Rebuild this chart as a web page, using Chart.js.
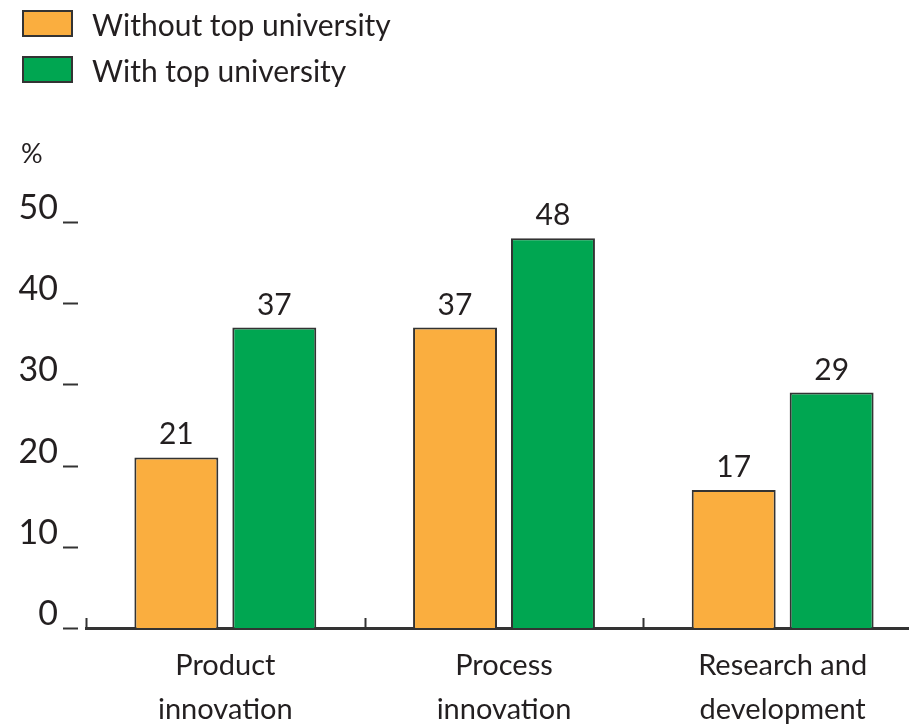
<!DOCTYPE html>
<html>
<head>
<meta charset="utf-8">
<title>Innovation rates</title>
<script src="https://cdn.jsdelivr.net/npm/chart.js@4.4.1/dist/chart.umd.min.js"></script>
<style>
  html, body { margin: 0; padding: 0; background: #fff; overflow: hidden; }
  #wrap { position: relative; width: 922px; height: 724px; }
  #legend {
    position: absolute; left: 22px; top: 10px;
    font-family: Lato, "Open Sans", sans-serif; font-size: 30px; color: #231f20;
  }
  .item { display: flex; align-items: center; height: 27px; margin-bottom: 19px; }
  .swatch { width: 47px; height: 23px; border: 2px solid #333; margin-right: 19px; }
</style>
</head>
<body>
<div id="wrap">
  <canvas id="chart" width="922" height="724"></canvas>
  <div id="legend"></div>
</div>
<script>
// --- Data ---
const categories = [["Product", "innovation"], ["Process", "innovation"], ["Research and", "development"]];
const seriesNames = ["Without top university", "With top university"];
const withoutTop = [21, 37, 17];
const withTop = [37, 48, 29];
const yTicks = [0, 10, 20, 30, 40, 50];

const colors = ["#FAAE3F", "#00A651"];
const ink = "#231f20";
const fontFamily = "Lato, 'Open Sans', sans-serif";

// --- HTML legend (two stacked rows) ---
const legendEl = document.getElementById("legend");
seriesNames.forEach((name, i) => {
  const row = document.createElement("div");
  row.className = "item";
  const sw = document.createElement("div");
  sw.className = "swatch";
  sw.style.background = colors[i];
  const label = document.createElement("span");
  label.textContent = name;
  row.appendChild(sw);
  row.appendChild(label);
  legendEl.appendChild(row);
});

// --- Extra drawing: value labels, tick dashes, category separators, unit ---
const decorations = {
  id: "decorations",
  afterDraw(chart) {
    const ctx = chart.ctx;
    const x = chart.scales.x;
    const y = chart.scales.y;
    ctx.save();
    ctx.strokeStyle = "#333";

    // short dashes next to the y labels
    ctx.lineWidth = 2;
    yTicks.forEach(v => {
      const py = Math.round(y.getPixelForValue(v)) + 0.5;
      ctx.beginPath();
      ctx.moveTo(y.right - 23, py);
      ctx.lineTo(y.right - 8, py);
      ctx.stroke();
    });

    // small upward ticks between categories
    const n = categories.length;
    for (let i = 0; i <= n; i++) {
      const px = Math.round(x.left + i * x.width / n) + 0.5;
      ctx.beginPath();
      ctx.moveTo(px, x.top);
      ctx.lineTo(px, x.top - 10);
      ctx.stroke();
    }

    // values above bars
    ctx.fillStyle = ink;
    ctx.font = "30px " + fontFamily;
    ctx.textAlign = "center";
    ctx.textBaseline = "alphabetic";
    chart.data.datasets.forEach((ds, di) => {
      chart.getDatasetMeta(di).data.forEach((bar, i) => {
        ctx.fillText(String(ds.data[i]), bar.x, bar.y - 13);
      });
    });

    // unit label over the y axis
    ctx.textAlign = "left";
    ctx.font = "27px " + fontFamily;
    ctx.fillText("%", 21, 163);
    ctx.restore();
  }
};

const ctx = document.getElementById("chart").getContext("2d");
new Chart(ctx, {
  type: "bar",
  data: {
    labels: categories,
    datasets: [
      { label: seriesNames[0], data: withoutTop, backgroundColor: colors[0] },
      { label: seriesNames[1], data: withTop, backgroundColor: colors[1] }
    ]
  },
  options: {
    responsive: false,
    animation: false,
    events: [],
    layout: { padding: { top: 222, right: 0, left: 0, bottom: 0 } },
    datasets: {
      bar: {
        borderColor: "#333",
        borderWidth: 2,
        categoryPercentage: 0.703,
        barPercentage: 0.857
      }
    },
    plugins: { legend: { display: false }, tooltip: { enabled: false } },
    scales: {
      x: {
        grid: { display: false, drawTicks: false },
        border: { display: true, color: "#333", width: 3 },
        ticks: {
          color: ink,
          font: { family: fontFamily, size: 29, lineHeight: 1.5 },
          padding: 16,
          maxRotation: 0
        },
        afterFit: s => { s.height = 96; }
      },
      y: {
        min: 0,
        max: 50,
        afterBuildTicks: s => { s.ticks = yTicks.map(v => ({ value: v })); },
        grid: { display: false, drawTicks: false },
        border: { display: false },
        ticks: {
          color: ink,
          font: { family: fontFamily, size: 34 },
          padding: 28,
          labelOffset: -14
        },
        afterFit: s => { s.width = 86; }
      }
    }
  },
  plugins: [decorations]
});
</script>
</body>
</html>
